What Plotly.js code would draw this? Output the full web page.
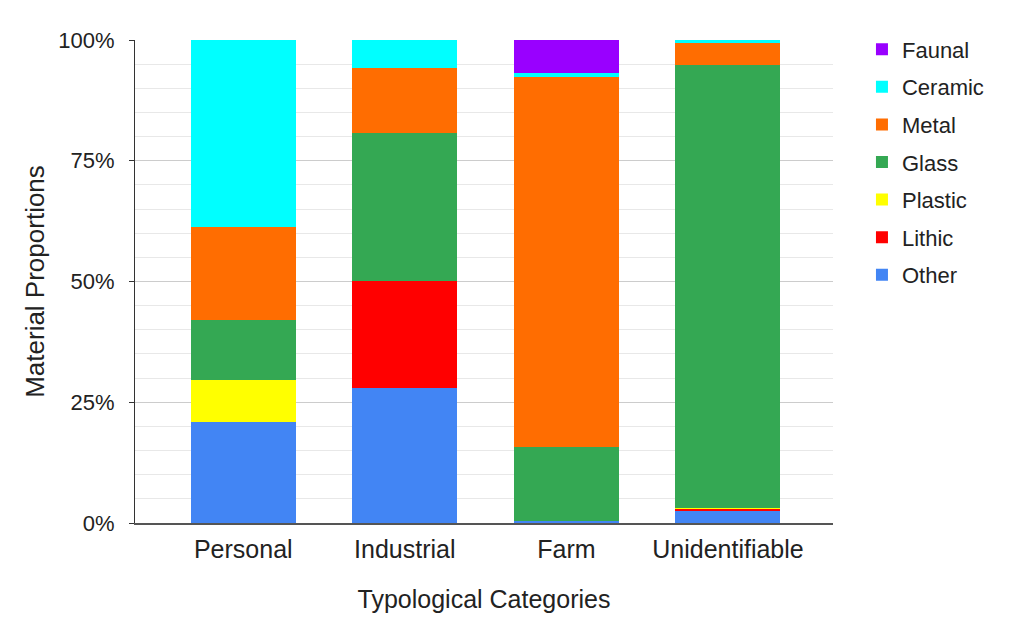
<!DOCTYPE html>
<html><head><meta charset="utf-8">
<script src="https://cdn.plot.ly/plotly-3.0.1.min.js"></script>
<style>html,body{margin:0;padding:0;background:#fff;}#chart{width:1024px;height:634px;}</style>
</head><body><div id="chart"></div>
<script>
const categories = ["Personal", "Industrial", "Farm", "Unidentifiable"];
const seriesNames = ["Other", "Lithic", "Plastic", "Glass", "Metal", "Ceramic", "Faunal"];
const other   = [21.0, 27.9, 0.4, 2.4];
const lithic  = [0, 22.2, 0, 0.4];
const plastic = [8.7, 0, 0, 0.3];
const glass   = [12.4, 30.6, 15.3, 91.7];
const metal   = [19.1, 13.6, 76.7, 4.5];
const ceramic = [38.8, 5.7, 0.8, 0.7];
const faunal  = [0, 0, 6.8, 0];
const yTickVals = [0, 25, 50, 75, 100];
const yTickText = ["0%", "25%", "50%", "75%", "100%"];
const colors = ["#4285F4", "#FF0000", "#FFFF00", "#34A853", "#FF6D01", "#00FFFF", "#9900FF"];
const values = [other, lithic, plastic, glass, metal, ceramic, faunal];

const traces = seriesNames.map((n, i) => ({
  type: "bar", name: n, x: categories, y: values[i], legendgroup: n,
  legendrank: (seriesNames.length - i) * 10,
  marker: {color: colors[i], line: {width: 0}},
  width: 0.65, hoverinfo: "none"
}));

const font = "Liberation Sans, Arial, sans-serif";
const layout = {
  width: 1024, height: 634,
  margin: {l: 135, r: 191, t: 40, b: 111},
  barmode: "stack",
  paper_bgcolor: "#fff", plot_bgcolor: "#fff",
  font: {family: font, color: "#222", size: 18},
  xaxis: {
    type: "category", range: [-0.67, 3.65],
    tickfont: {size: 25, color: "#222"},
    showline: true, linecolor: "#555", linewidth: 2,
    ticks: "", showgrid: false, ticklabelstandoff: 3,
    title: {text: "Typological Categories", font: {size: 25, color: "#222"}, standoff: 28}
  },
  yaxis: {
    range: [0, 100], tickvals: yTickVals, ticktext: yTickText,
    tickfont: {size: 22, color: "#222"},
    showgrid: true, gridcolor: "#cccccc", gridwidth: 1,
    minor: {dtick: 5, showgrid: true, gridcolor: "#e8e8e8", gridwidth: 1},
    showline: true, linecolor: "#333", linewidth: 1,
    ticks: "outside", ticklen: 5, tickcolor: "#333",
    ticklabelstandoff: 10,
    zeroline: false,
    title: {text: "Material Proportions", font: {size: 26, color: "#222"}, standoff: 6}
  },
  legend: {
    x: 1.0415, xanchor: "left", y: 1.024, yanchor: "top",
    traceorder: "grouped", font: {size: 22, color: "#222"},
    itemwidth: 30, tracegroupgap: 6
  },
  showlegend: true
};
Plotly.newPlot("chart", traces, layout, {staticPlot: true, displayModeBar: false});
</script></body></html>
